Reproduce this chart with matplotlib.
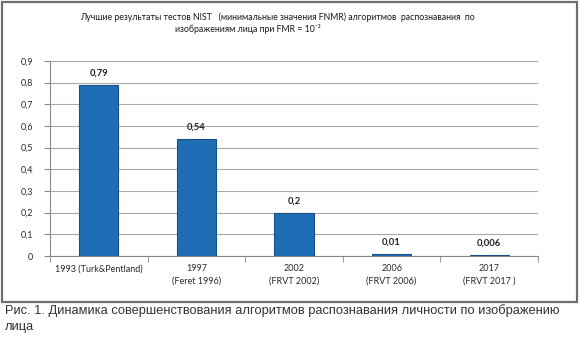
import matplotlib
matplotlib.use("Agg")
import matplotlib.pyplot as plt
from matplotlib.patches import Rectangle
import numpy as np

categories = ["1993 (Turk&Pentland)", "1997\n(Feret 1996)", "2002\n(FRVT 2002)",
              "2006\n(FRVT 2006)", "2017\n(FRVT 2017 )"]
values = [0.79, 0.54, 0.2, 0.01, 0.006]
value_labels = ["0,79", "0,54", "0,2", "0,01", "0,006"]
yticks = [0, 0.1, 0.2, 0.3, 0.4, 0.5, 0.6, 0.7, 0.8, 0.9]
ytick_labels = ["0", "0,1", "0,2", "0,3", "0,4", "0,5", "0,6", "0,7", "0,8", "0,9"]
title1 = "Лучшие результаты тестов NIST   (минимальные значения FNMR) алгоритмов  распознавания  по"
title2 = "изображениям лица при FMR = 10⁻³"
caption = "Рис. 1. Динамика совершенствования алгоритмов распознавания личности по изображению\nлица"

W, H = 579, 337
fig = plt.figure(figsize=(W / 100, H / 100), dpi=100)
fig.patch.set_facecolor("white")

# outer frame
fig.add_artist(Rectangle((2 / W, 1 - 302 / H), 575 / W, 300 / H, transform=fig.transFigure,
                         fill=False, edgecolor="#6e6e6e", lw=1.6))

ax = fig.add_axes([50 / W, 1 - 256 / H, 488 / W, 195 / H])
x = np.arange(len(values))
ax.bar(x, values, width=0.4, color="#1f6db5", edgecolor="#1b4f86", linewidth=0.8, zorder=3)
for xi, v, lab in zip(x, values, value_labels):
    ax.annotate(lab, (xi, v), xytext=(0, 5), textcoords="offset points", ha="center",
                va="bottom", fontsize=6.8, fontweight="bold", family="Lato", color="#222222")

ax.set_xlim(-0.5, len(values) - 0.5)
ax.set_ylim(0, 0.9)
ax.set_yticks(yticks)
ax.set_yticklabels(ytick_labels, family="Lato", fontsize=6.5, color="#2a2a2a")
ax.set_xticks(x)
ax.set_xticklabels(categories, family="Lato", fontsize=6.5, color="#2a2a2a", linespacing=1.5)
ax.set_xticks(np.arange(-0.5, len(values)), minor=True)
ax.tick_params(axis="x", which="major", length=0, pad=6)
ax.tick_params(axis="x", which="minor", length=4, color="#888888", direction="out")
ax.tick_params(axis="y", length=4, color="#888888", pad=8)
ax.yaxis.grid(True, color="#a8a8a8", lw=0.8, zorder=0)
for s in ["top", "right"]:
    ax.spines[s].set_visible(False)
ax.spines["left"].set_color("#888888")
ax.spines["bottom"].set_color("#888888")
ax.set_facecolor("white")

fig.text(277 / W, 1 - 17 / H, title1, ha="center", va="center", fontsize=6.3,
         family=["Lato", "DejaVu Sans"], color="#1a1a1a")
fig.text(248 / W, 1 - 29 / H, title2, ha="center", va="center", fontsize=6.3,
         family=["Lato", "DejaVu Sans"], color="#1a1a1a")

fig.text(5 / W, 1 - 304 / H, caption, ha="left", va="top", fontsize=9.3,
         family="Liberation Sans", color="#333333", linespacing=1.4)

fig.savefig("out.png", dpi=100, facecolor="white")
